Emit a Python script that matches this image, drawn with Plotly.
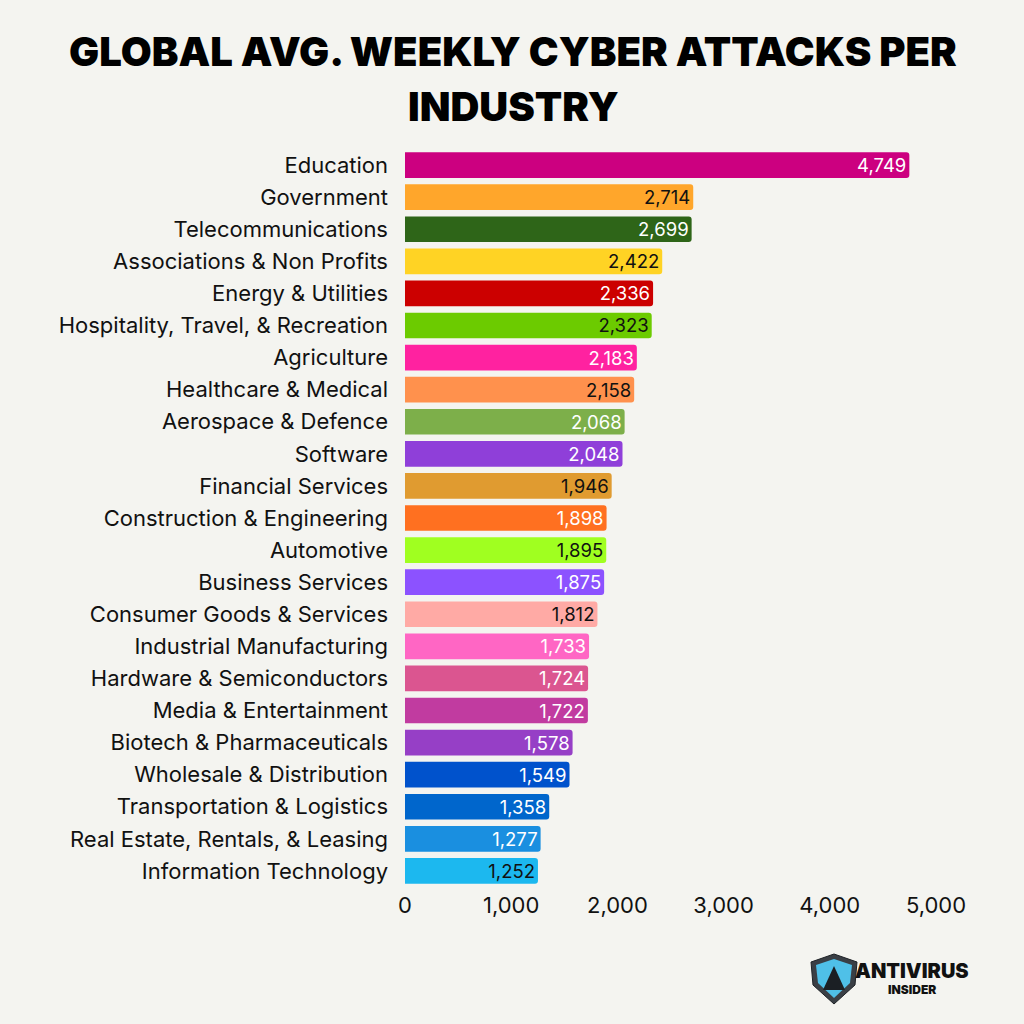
import plotly.graph_objects as go

industries = [
    "Education", "Government", "Telecommunications", "Associations & Non Profits",
    "Energy & Utilities", "Hospitality, Travel, & Recreation", "Agriculture",
    "Healthcare & Medical", "Aerospace & Defence", "Software", "Financial Services",
    "Construction & Engineering", "Automotive", "Business Services",
    "Consumer Goods & Services", "Industrial Manufacturing", "Hardware & Semiconductors",
    "Media & Entertainment", "Biotech & Pharmaceuticals", "Wholesale & Distribution",
    "Transportation & Logistics", "Real Estate, Rentals, & Leasing", "Information Technology",
]
attacks = [4749, 2714, 2699, 2422, 2336, 2323, 2183, 2158, 2068, 2048, 1946, 1898,
           1895, 1875, 1812, 1733, 1724, 1722, 1578, 1549, 1358, 1277, 1252]
bar_colors = ["#cc0080", "#ffa62b", "#2e6518", "#ffd324", "#cc0000", "#6ccb00", "#ff22a0",
              "#ff914d", "#7daf4a", "#8f3fd9", "#e09b30", "#ff7020", "#a0ff20", "#8c52ff",
              "#ffaaa5", "#ff66c4", "#db5590", "#c13ba0", "#963fc6", "#0052cc", "#0066cc",
              "#1a8fe0", "#1cb8ef"]
label_colors = ["#ffffff", "#111111", "#ffffff", "#111111", "#ffffff", "#111111", "#ffffff",
                "#111111", "#ffffff", "#ffffff", "#111111", "#ffffff", "#111111", "#ffffff",
                "#111111", "#ffffff", "#ffffff", "#ffffff", "#ffffff", "#ffffff", "#ffffff",
                "#ffffff", "#111111"]
x_ticks = [0, 1000, 2000, 3000, 4000, 5000]
x_tick_labels = ["0", "1,000", "2,000", "3,000", "4,000", "5,000"]
title_lines = ["GLOBAL AVG. WEEKLY CYBER ATTACKS PER", "INDUSTRY"]

BG = "#f4f4f0"
L, R, T, B = 405, 88, 149, 137

fig = go.Figure(go.Bar(
    x=attacks, y=industries, orientation="h",
    marker=dict(color=bar_colors, line=dict(width=0)),
    text=[f"{v:,}" for v in attacks],
    textposition="inside", insidetextanchor="end",
    textfont=dict(family="Inter", size=18.5, color=label_colors),
    constraintext="none",
    hoverinfo="skip",
))

# helpers converting pixel positions to paper coords (for title/logo decoration)
def px(x):
    return (x - L) / (1024 - L - R)
def py(y):
    return (1024 - B - y) / (1024 - T - B)

shield_outer = [(834, 954), (857, 962), (855, 985), (834, 1004), (813, 985), (811, 962)]
shield_inner = [(834, 959), (852, 965), (850, 983), (834, 998), (818, 983), (816, 965)]
tri = [(834, 966), (845, 990), (823, 990)]

def path(pts):
    return "M " + " L ".join(f"{px(a):.5f},{py(b):.5f}" for a, b in pts) + " Z"

shapes = [
    dict(type="path", xref="paper", yref="paper", path=path(shield_outer),
         fillcolor="#3a3f45", line=dict(color="#1e2226", width=1)),
    dict(type="path", xref="paper", yref="paper", path=path(shield_inner),
         fillcolor="#4fc0e8", line=dict(width=0)),
    dict(type="path", xref="paper", yref="paper", path=path(tri),
         fillcolor="#1b1f24", line=dict(width=0)),
]

annotations = [
    dict(text=title_lines[0], xref="paper", yref="paper", x=px(513), y=py(51),
         xanchor="center", yanchor="middle", showarrow=False,
         font=dict(family="Inter", size=40, color="#000000", weight=900)),
    dict(text=title_lines[1], xref="paper", yref="paper", x=px(513), y=py(106),
         xanchor="center", yanchor="middle", showarrow=False,
         font=dict(family="Inter", size=40, color="#000000", weight=900)),
    dict(text="ANTIVIRUS", xref="paper", yref="paper", x=px(912), y=py(971),
         xanchor="center", yanchor="middle", showarrow=False,
         font=dict(family="Inter", size=20, color="#111111", weight=900)),
    dict(text="INSIDER", xref="paper", yref="paper", x=px(912), y=py(989),
         xanchor="center", yanchor="middle", showarrow=False,
         font=dict(family="Inter", size=12, color="#111111", weight=900)),
]

fig.update_layout(
    width=1024, height=1024,
    paper_bgcolor=BG, plot_bgcolor=BG,
    margin=dict(l=L, r=R, t=T, b=B),
    bargap=0.2,
    barcornerradius=3,
    showlegend=False,
    xaxis=dict(range=[0, 5000], tickvals=x_ticks, ticktext=x_tick_labels,
               showgrid=False, zeroline=False, showline=False,
               tickfont=dict(family="Inter", size=22, color="#111111"),
               ticks="", ticklabelstandoff=3),
    yaxis=dict(autorange="reversed", showgrid=False, zeroline=False, showline=False,
               tickfont=dict(family="Inter", size=22, color="#111111"),
               ticks="", ticklabelstandoff=16),
    shapes=shapes,
    annotations=annotations,
    font=dict(family="Inter"),
)

fig.write_html("out.html")
